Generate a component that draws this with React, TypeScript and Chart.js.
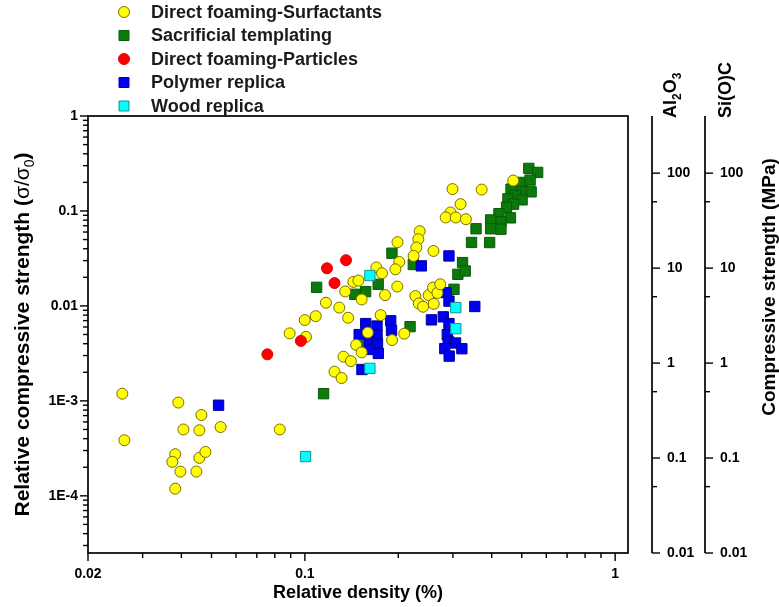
import React, { useEffect, useRef } from 'react';
import { Chart, registerables } from 'chart.js';

Chart.register(...registerables);

// [relative density, relative compressive strength] for each processing route
const surfactants: [number, number][] = [
  [0.0258, 1.19e-3], [0.0262, 3.85e-4], [0.0391, 9.6e-4], [0.0464, 7.1e-4], [0.0406, 5.0e-4],
  [0.0457, 4.9e-4], [0.0535, 5.3e-4], [0.0382, 2.74e-4], [0.0374, 2.28e-4], [0.0397, 1.8e-4],
  [0.0382, 1.19e-4], [0.0457, 2.51e-4], [0.0478, 2.9e-4], [0.0447, 1.8e-4], [0.083, 5.0e-4],
  [0.1246, 2.03e-3], [0.1313, 1.74e-3], [0.1332, 2.92e-3], [0.1407, 2.62e-3], [0.1463, 3.89e-3],
  [0.1524, 3.24e-3], [0.0893, 5.14e-3], [0.1008, 4.72e-3], [0.191, 4.37e-3], [0.1595, 5.24e-3],
  [0.1988, 0.0469], [0.2015, 0.029], [0.1958, 0.0243], [0.17, 0.0254], [0.1772, 0.0221],
  [0.1433, 0.0179], [0.1488, 0.0185], [0.1349, 0.0142], [0.1524, 0.0117], [0.1813, 0.013],
  [0.1985, 0.016], [0.1169, 0.0108], [0.1291, 0.0096], [0.1379, 0.0075], [0.1084, 0.0078],
  [0.0999, 0.0071], [0.1755, 0.008], [0.2991, 0.17], [0.3713, 0.168], [0.4694, 0.209],
  [0.3175, 0.118], [0.2946, 0.0964], [0.2843, 0.0854], [0.3063, 0.0854], [0.3303, 0.0819],
  [0.2344, 0.0612], [0.2321, 0.0504], [0.2287, 0.0412], [0.2241, 0.0336], [0.2597, 0.0379],
  [0.2091, 0.0051], [0.227, 0.0127], [0.2329, 0.0106], [0.2404, 0.0098], [0.2505, 0.013],
  [0.2587, 0.0156], [0.2675, 0.0137], [0.2731, 0.0169], [0.2602, 0.0105],
];

const templating: [number, number][] = [
  [0.5268, 0.2807], [0.5626, 0.2547], [0.5009, 0.1998], [0.532, 0.2113], [0.4617, 0.1698],
  [0.5002, 0.159], [0.5361, 0.159], [0.4772, 0.1457], [0.4512, 0.1341], [0.5013, 0.1309],
  [0.4705, 0.1179], [0.4466, 0.1097], [0.4222, 0.0937], [0.4597, 0.0846], [0.4285, 0.0771],
  [0.3969, 0.0804], [0.3969, 0.0649], [0.4284, 0.0643], [0.3562, 0.0649], [0.3444, 0.0466],
  [0.394, 0.0465], [0.1908, 0.0359], [0.2236, 0.0273], [0.3222, 0.0286], [0.3112, 0.0215],
  [0.3288, 0.0233], [0.1723, 0.0169], [0.1449, 0.01326], [0.157, 0.01415], [0.1091, 0.0157],
  [0.3024, 0.01497], [0.2183, 0.00605], [0.1149, 1.19e-3], [0.1549, 3.78e-3],
];

const particles: [number, number][] = [
  [0.1357, 0.0303], [0.1178, 0.0249], [0.1246, 0.0174], [0.0971, 4.28e-3], [0.0757, 3.09e-3],
];

const polymerReplica: [number, number][] = [
  [0.2913, 0.0336], [0.2373, 0.0264], [0.3529, 9.86e-3], [0.2851, 0.01381], [0.2913, 0.01124],
  [0.2558, 7.13e-3], [0.2793, 7.67e-3], [0.2913, 6.51e-3], [0.2877, 4.98e-3], [0.2896, 4.23e-3],
  [0.3059, 4.07e-3], [0.3206, 3.54e-3], [0.2824, 3.55e-3], [0.2918, 2.96e-3], [0.1571, 6.52e-3],
  [0.1708, 6.14e-3], [0.1891, 6.97e-3], [0.1902, 5.53e-3], [0.1496, 4.99e-3], [0.1708, 4.93e-3],
  [0.1614, 4.2e-3], [0.1714, 3.98e-3], [0.1617, 3.48e-3], [0.1725, 3.16e-3], [0.1527, 2.14e-3],
  [0.0527, 9.0e-4],
];

const woodReplica: [number, number][] = [
  [0.162, 0.0209], [0.3065, 9.6e-3], [0.3065, 5.76e-3], [0.162, 2.2e-3], [0.1005, 2.59e-4],
];

const seriesNames = [
  'Direct foaming-Surfactants',
  'Sacrificial templating',
  'Direct foaming-Particles',
  'Polymer replica',
  'Wood replica',
];

const xTickValues = [0.02, 0.1, 1];
const xTickLabels = ['0.02', '0.1', '1'];
const yTickValues = [1, 0.1, 0.01, 1e-3, 1e-4];
const yTickLabels = ['1', '0.1', '0.01', '1E-3', '1E-4'];
const mpaTickValues = [100, 10, 1, 0.1, 0.01];
const mpaTickLabels = ['100', '10', '1', '0.1', '0.01'];
const mpaMinorValues = [50, 5, 0.5, 0.05];

const FONT = '"Liberation Sans", Arial, Helvetica, sans-serif';

const toPoints = (arr: [number, number][]) => arr.map(([x, y]) => ({ x, y }));

function minorLogValues(min: number, max: number): number[] {
  const out: number[] = [];
  for (let e = Math.floor(Math.log10(min)); e <= Math.ceil(Math.log10(max)); e++) {
    for (let m = 2; m <= 9; m++) {
      const v = m * Math.pow(10, e);
      if (v > min * 1.0001 && v < max * 0.9999) out.push(v);
    }
  }
  return out;
}

type Seg = { text: string; font: string; dy?: number };

function drawSegments(ctx: CanvasRenderingContext2D, segs: Seg[], startX: number) {
  let x = startX;
  for (const s of segs) {
    ctx.font = s.font;
    ctx.fillText(s.text, x, s.dy ?? 0);
    x += ctx.measureText(s.text).width;
  }
}

function segWidth(ctx: CanvasRenderingContext2D, segs: Seg[]) {
  let w = 0;
  for (const s of segs) {
    ctx.font = s.font;
    w += ctx.measureText(s.text).width;
  }
  return w;
}

const axesPlugin = {
  id: 'originAxes',
  afterDraw(chart: any) {
    const ctx: CanvasRenderingContext2D = chart.ctx;
    const { left, right, top, bottom } = chart.chartArea;
    const xs = chart.scales.x;
    const ys = chart.scales.y;
    const ms = chart.scales.mpa;
    const MAJOR = 8;
    const MINOR = 5;

    ctx.save();
    ctx.strokeStyle = '#000';
    ctx.fillStyle = '#000';
    ctx.lineWidth = 1.7;
    ctx.strokeRect(left, top, right - left, bottom - top);

    const line = (x1: number, y1: number, x2: number, y2: number) => {
      ctx.beginPath();
      ctx.moveTo(x1, y1);
      ctx.lineTo(x2, y2);
      ctx.stroke();
    };

    // left axis ticks (outward)
    ctx.lineWidth = 1.4;
    for (const v of yTickValues) {
      const py = ys.getPixelForValue(v);
      line(left, py, left - MAJOR, py);
    }
    for (const v of minorLogValues(ys.min, ys.max)) {
      if (yTickValues.includes(v)) continue;
      const py = ys.getPixelForValue(v);
      line(left, py, left - MINOR, py);
    }
    // bottom axis ticks (outward)
    for (const v of xTickValues) {
      const px = xs.getPixelForValue(v);
      line(px, bottom, px, bottom + MAJOR);
    }
    for (const v of minorLogValues(xs.min, xs.max)) {
      if (xTickValues.some((t) => Math.abs(t - v) < 1e-9)) continue;
      const px = xs.getPixelForValue(v);
      line(px, bottom, px, bottom + MINOR);
    }

    // tick labels
    ctx.font = `bold 14px ${FONT}`;
    ctx.textAlign = 'right';
    ctx.textBaseline = 'middle';
    yTickValues.forEach((v, i) => {
      ctx.fillText(yTickLabels[i], left - 10, ys.getPixelForValue(v));
    });
    ctx.textAlign = 'center';
    ctx.textBaseline = 'top';
    xTickValues.forEach((v, i) => {
      ctx.fillText(xTickLabels[i], xs.getPixelForValue(v), bottom + 14);
    });

    // compressive strength axes (MPa) for the two materials
    const mpaAxisX = [652, 705];
    for (const ax of mpaAxisX) {
      ctx.lineWidth = 1.7;
      line(ax, top, ax, bottom);
      ctx.lineWidth = 1.4;
      for (const v of mpaTickValues) {
        const py = ms.getPixelForValue(v);
        line(ax, py, ax + MAJOR, py);
      }
      for (const v of mpaMinorValues) {
        const py = ms.getPixelForValue(v);
        line(ax, py, ax + MINOR, py);
      }
      ctx.font = `bold 14px ${FONT}`;
      ctx.textAlign = 'left';
      ctx.textBaseline = 'middle';
      mpaTickValues.forEach((v, i) => {
        ctx.fillText(mpaTickLabels[i], ax + 15, ms.getPixelForValue(v));
      });
    }

    const bold = (s: number) => `bold ${s}px ${FONT}`;
    const normal = (s: number) => `${s}px ${FONT}`;

    // axis titles
    ctx.textAlign = 'left';
    ctx.textBaseline = 'alphabetic';
    ctx.font = bold(18);
    const xTitle = 'Relative density (%)';
    const xw = ctx.measureText(xTitle).width;
    ctx.fillText(xTitle, (left + right) / 2 - xw / 2, 598);

    const yTitle: Seg[] = [
      { text: 'Relative compressive strength (', font: bold(21) },
      { text: 'σ/σ', font: normal(21) },
      { text: '0', font: normal(14), dy: 5 },
      { text: ')', font: bold(21) },
    ];
    ctx.save();
    ctx.translate(29, (top + bottom) / 2);
    ctx.rotate(-Math.PI / 2);
    drawSegments(ctx, yTitle, -segWidth(ctx, yTitle) / 2);
    ctx.restore();

    const alTitle: Seg[] = [
      { text: 'Al', font: bold(18) },
      { text: '2', font: bold(12), dy: 5 },
      { text: 'O', font: bold(18) },
      { text: '3', font: bold(12), dy: 5 },
    ];
    ctx.save();
    ctx.translate(676, top + 2);
    ctx.rotate(-Math.PI / 2);
    drawSegments(ctx, alTitle, 0);
    ctx.restore();

    ctx.save();
    ctx.translate(731, top + 2);
    ctx.rotate(-Math.PI / 2);
    drawSegments(ctx, [{ text: 'Si(O)C', font: bold(18) }], 0);
    ctx.restore();

    const mpaTitle = 'Compressive strength (MPa)';
    ctx.save();
    ctx.translate(775, 287);
    ctx.rotate(-Math.PI / 2);
    ctx.font = bold(19);
    ctx.fillText(mpaTitle, -ctx.measureText(mpaTitle).width / 2, 0);
    ctx.restore();

    // legend
    const datasets = chart.data.datasets;
    ctx.textBaseline = 'middle';
    ctx.textAlign = 'left';
    seriesNames.forEach((name, i) => {
      const ds = datasets[i];
      const cy = 12 + i * 23.5;
      const cx = 124;
      ctx.fillStyle = ds.backgroundColor;
      ctx.strokeStyle = ds.borderColor;
      ctx.lineWidth = 1;
      ctx.beginPath();
      if (ds.pointStyle === 'circle') {
        ctx.arc(cx, cy, 5.5, 0, Math.PI * 2);
      } else {
        ctx.rect(cx - 5, cy - 5, 10, 10);
      }
      ctx.fill();
      ctx.stroke();
      ctx.fillStyle = '#1a1a1a';
      ctx.font = bold(18);
      ctx.fillText(name, 151, cy + 1);
    });

    ctx.restore();
  },
};

export default function App() {
  const ref = useRef<HTMLCanvasElement>(null);

  useEffect(() => {
    if (!ref.current) return;
    const circle = { pointStyle: 'circle', pointRadius: 5.5, borderWidth: 1 };
    const square = { pointStyle: 'rect', pointRadius: 7.3, borderWidth: 1 };
    const chart = new Chart(ref.current, {
      type: 'scatter',
      data: {
        datasets: [
          { label: seriesNames[0], data: toPoints(surfactants), backgroundColor: '#ffff00', borderColor: '#7a6a00', order: 3, ...circle },
          { label: seriesNames[1], data: toPoints(templating), backgroundColor: '#0b7a0b', borderColor: '#075a07', order: 5, ...square },
          { label: seriesNames[2], data: toPoints(particles), backgroundColor: '#ff0000', borderColor: '#e00000', order: 2, ...circle },
          { label: seriesNames[3], data: toPoints(polymerReplica), backgroundColor: '#0000f5', borderColor: '#00009a', order: 4, ...square },
          { label: seriesNames[4], data: toPoints(woodReplica), backgroundColor: '#00ffff', borderColor: '#1a9090', order: 1, ...square },
        ] as any,
      },
      options: {
        responsive: false,
        animation: false,
        devicePixelRatio: 1,
        events: [],
        layout: { padding: { left: 88, top: 116, right: 151, bottom: 54 } },
        plugins: { legend: { display: false }, tooltip: { enabled: false } },
        scales: {
          x: { type: 'logarithmic', min: 0.02, max: 1.1, display: false },
          y: { type: 'logarithmic', min: 2.5e-5, max: 1, display: false },
          mpa: { type: 'logarithmic', axis: 'y', position: 'right', min: 0.01, max: 400, display: false },
        },
      } as any,
      plugins: [axesPlugin],
    });
    return () => chart.destroy();
  }, []);

  return (
    <div style={{ position: 'fixed', left: 0, top: 0, width: 779, height: 607, background: '#fff' }}>
      <canvas ref={ref} width={779} height={607} style={{ display: 'block' }} />
    </div>
  );
}
